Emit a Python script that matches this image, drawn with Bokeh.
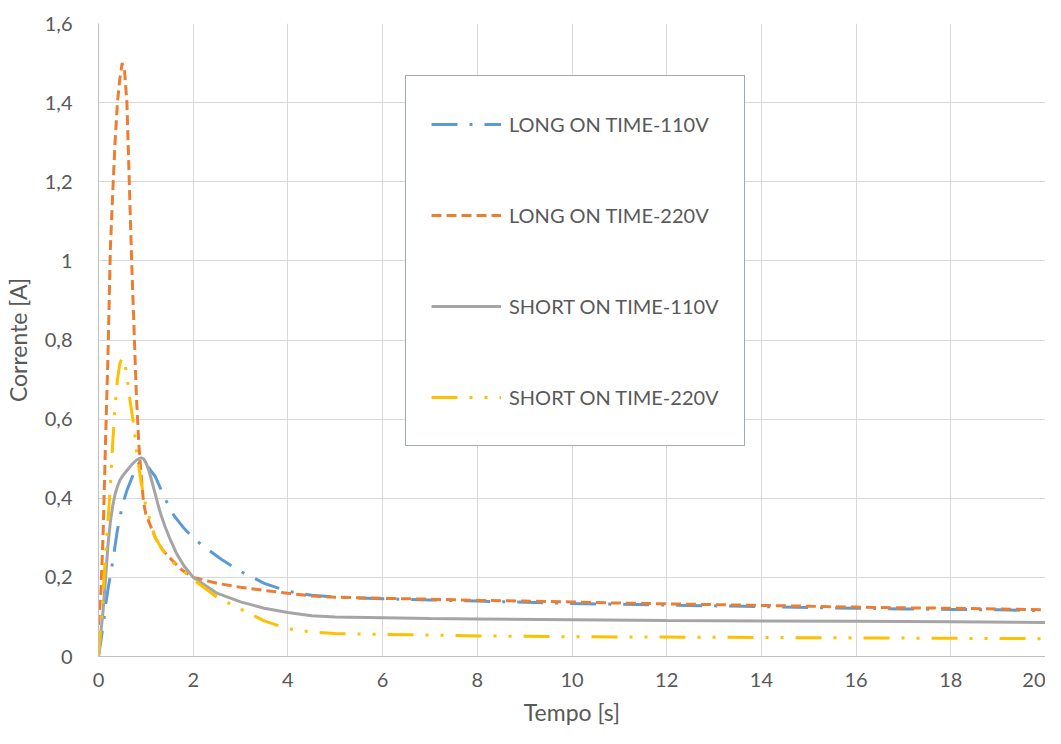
from bokeh.plotting import figure
from bokeh.models import Legend, LegendItem, FixedTicker, Range1d
from bokeh.embed import file_html
from bokeh.resources import INLINE

# ---- data ----
t_long110 = [0, 0.05, 0.1, 0.15, 0.2, 0.3, 0.4, 0.5, 0.6, 0.7, 0.8, 0.9, 1.0, 1.1, 1.2, 1.4, 1.6, 1.8, 2.0, 2.2,
             2.6, 3.0, 3.5, 4.0, 4.5, 5, 6, 7, 8, 9, 10, 11, 12, 13, 14, 15, 16, 17, 18, 19, 20]
i_long110 = [0, 0.04, 0.08, 0.13, 0.17, 0.24, 0.32, 0.38, 0.42, 0.45, 0.48, 0.495, 0.49, 0.47, 0.455, 0.40, 0.355,
             0.325, 0.30, 0.28, 0.245, 0.215, 0.185, 0.165, 0.155, 0.15, 0.146, 0.143, 0.14, 0.137, 0.134, 0.132,
             0.13, 0.128, 0.126, 0.124, 0.122, 0.12, 0.119, 0.118, 0.116]

t_long220 = [0, 0.05, 0.1, 0.15, 0.2, 0.25, 0.3, 0.35, 0.4, 0.45, 0.5, 0.55, 0.6, 0.65, 0.7, 0.75, 0.8, 0.85, 0.9,
             0.95, 1.0, 1.1, 1.2, 1.35, 1.5, 1.75, 2.0, 2.5, 3, 3.5, 4, 4.5, 5, 6, 7, 8, 9, 10, 11, 12, 13, 14, 15,
             16, 17, 18, 19, 20]
i_long220 = [0.08, 0.16, 0.32, 0.55, 0.76, 1.03, 1.17, 1.30, 1.40, 1.46, 1.50, 1.48, 1.40, 1.20, 1.00, 0.83, 0.66,
             0.54, 0.46, 0.39, 0.36, 0.33, 0.30, 0.27, 0.25, 0.22, 0.20, 0.185, 0.175, 0.167, 0.16, 0.153, 0.15,
             0.147, 0.145, 0.142, 0.14, 0.138, 0.135, 0.133, 0.131, 0.129, 0.127, 0.125, 0.123, 0.122, 0.12, 0.118]

t_short110 = [0, 0.05, 0.1, 0.15, 0.2, 0.25, 0.3, 0.35, 0.4, 0.45, 0.5, 0.6, 0.7, 0.8, 0.85, 0.9, 0.95, 1.0, 1.05,
              1.1, 1.2, 1.3, 1.4, 1.5, 1.65, 1.8, 2.0, 2.25, 2.5, 3, 3.5, 4, 4.5, 5, 6, 7, 8, 10, 12, 14, 16, 18, 20]
i_short110 = [0, 0.06, 0.12, 0.2, 0.28, 0.34, 0.38, 0.41, 0.43, 0.445, 0.455, 0.47, 0.485, 0.496, 0.50, 0.502,
              0.50, 0.49, 0.475, 0.455, 0.41, 0.365, 0.33, 0.30, 0.26, 0.23, 0.20, 0.18, 0.16, 0.138, 0.122, 0.111,
              0.103, 0.10, 0.098, 0.096, 0.095, 0.093, 0.091, 0.09, 0.089, 0.088, 0.086]

t_short220 = [0, 0.05, 0.1, 0.15, 0.2, 0.25, 0.3, 0.35, 0.4, 0.45, 0.5, 0.55, 0.6, 0.65, 0.7, 0.75, 0.8, 0.85, 0.9,
              0.95, 1.0, 1.1, 1.2, 1.35, 1.5, 1.75, 2.0, 2.5, 3, 3.5, 4, 4.5, 5, 6, 7, 8, 9, 10, 12, 14, 16, 18, 20]
i_short220 = [0, 0.08, 0.17, 0.26, 0.34, 0.43, 0.54, 0.63, 0.70, 0.74, 0.755, 0.745, 0.71, 0.66, 0.62, 0.58, 0.52,
              0.48, 0.44, 0.41, 0.38, 0.34, 0.30, 0.27, 0.245, 0.22, 0.195, 0.15, 0.12, 0.09, 0.07, 0.062, 0.058,
              0.056, 0.054, 0.052, 0.051, 0.05, 0.049, 0.048, 0.047, 0.046, 0.045]

series_names = ["LONG ON TIME-110V", "LONG ON TIME-220V", "SHORT ON TIME-110V", "SHORT ON TIME-220V"]

x_ticks = [0, 2, 4, 6, 8, 10, 12, 14, 16, 18, 20]
y_ticks = [0, 0.2, 0.4, 0.6, 0.8, 1.0, 1.2, 1.4, 1.6]
y_tick_labels = ["0", "0,2", "0,4", "0,6", "0,8", "1", "1,2", "1,4", "1,6"]

# ---- figure ----
FONT = "Lato"
TXT = "#595959"

p = figure(width=1045, height=728, output_backend="svg", toolbar_location=None,
           x_range=Range1d(0, 20), y_range=Range1d(0, 1.6),
           min_border_left=88, min_border_right=0, min_border_top=23, min_border_bottom=70)
p.outline_line_color = None

p.xaxis.ticker = FixedTicker(ticks=x_ticks)
p.yaxis.ticker = FixedTicker(ticks=y_ticks)
p.yaxis.major_label_overrides = {v: s for v, s in zip(y_ticks, y_tick_labels)}

for ax in (p.xaxis, p.yaxis):
    ax.major_tick_line_color = None
    ax.minor_tick_line_color = None
    ax.axis_line_color = "#BFBFBF"
    ax.axis_line_width = 1
    ax.major_label_text_font = FONT
    ax.major_label_text_font_size = "20px"
    ax.major_label_text_color = TXT
    ax.axis_label_text_font = FONT
    ax.axis_label_text_font_size = "23px"
    ax.axis_label_text_font_style = "normal"
    ax.axis_label_text_color = TXT

p.xaxis.axis_label = "Tempo [s]"
p.yaxis.axis_label = "Corrente [A]"
p.xaxis.major_label_standoff = 10
p.xaxis.axis_label_standoff = 8
p.yaxis.major_label_standoff = 20
p.yaxis.axis_label_standoff = 10

p.xgrid.grid_line_color = "#D9D9D9"
p.ygrid.grid_line_color = "#D9D9D9"
p.xgrid.grid_line_width = 1
p.ygrid.grid_line_width = 1

r1 = p.line(t_long110, i_long110, line_color="#5B9BD5", line_width=3, line_dash="26 12 3 12")
r2 = p.line(t_long220, i_long220, line_color="#ED7D31", line_width=3, line_dash="10 5")
r3 = p.line(t_short110, i_short110, line_color="#A5A5A5", line_width=3)
r4 = p.line(t_short220, i_short220, line_color="#FFC000", line_width=3, line_dash="26 12 3 12 3 12")

legend = Legend(items=[LegendItem(label=n, renderers=[r]) for n, r in zip(series_names, [r1, r2, r3, r4])],
                location=(307, 210))
legend.label_text_font = FONT
legend.label_text_font_size = "20px"
legend.label_text_color = TXT
legend.glyph_width = 70
legend.glyph_height = 46
legend.label_height = 46
legend.label_standoff = 8
legend.spacing = 45
legend.padding = 25
legend.margin = 0
legend.border_line_color = "#44546A"
legend.border_line_width = 1
legend.background_fill_color = "white"
legend.background_fill_alpha = 1
p.add_layout(legend, "center")

open("out.html", "w").write(file_html(p, INLINE))
